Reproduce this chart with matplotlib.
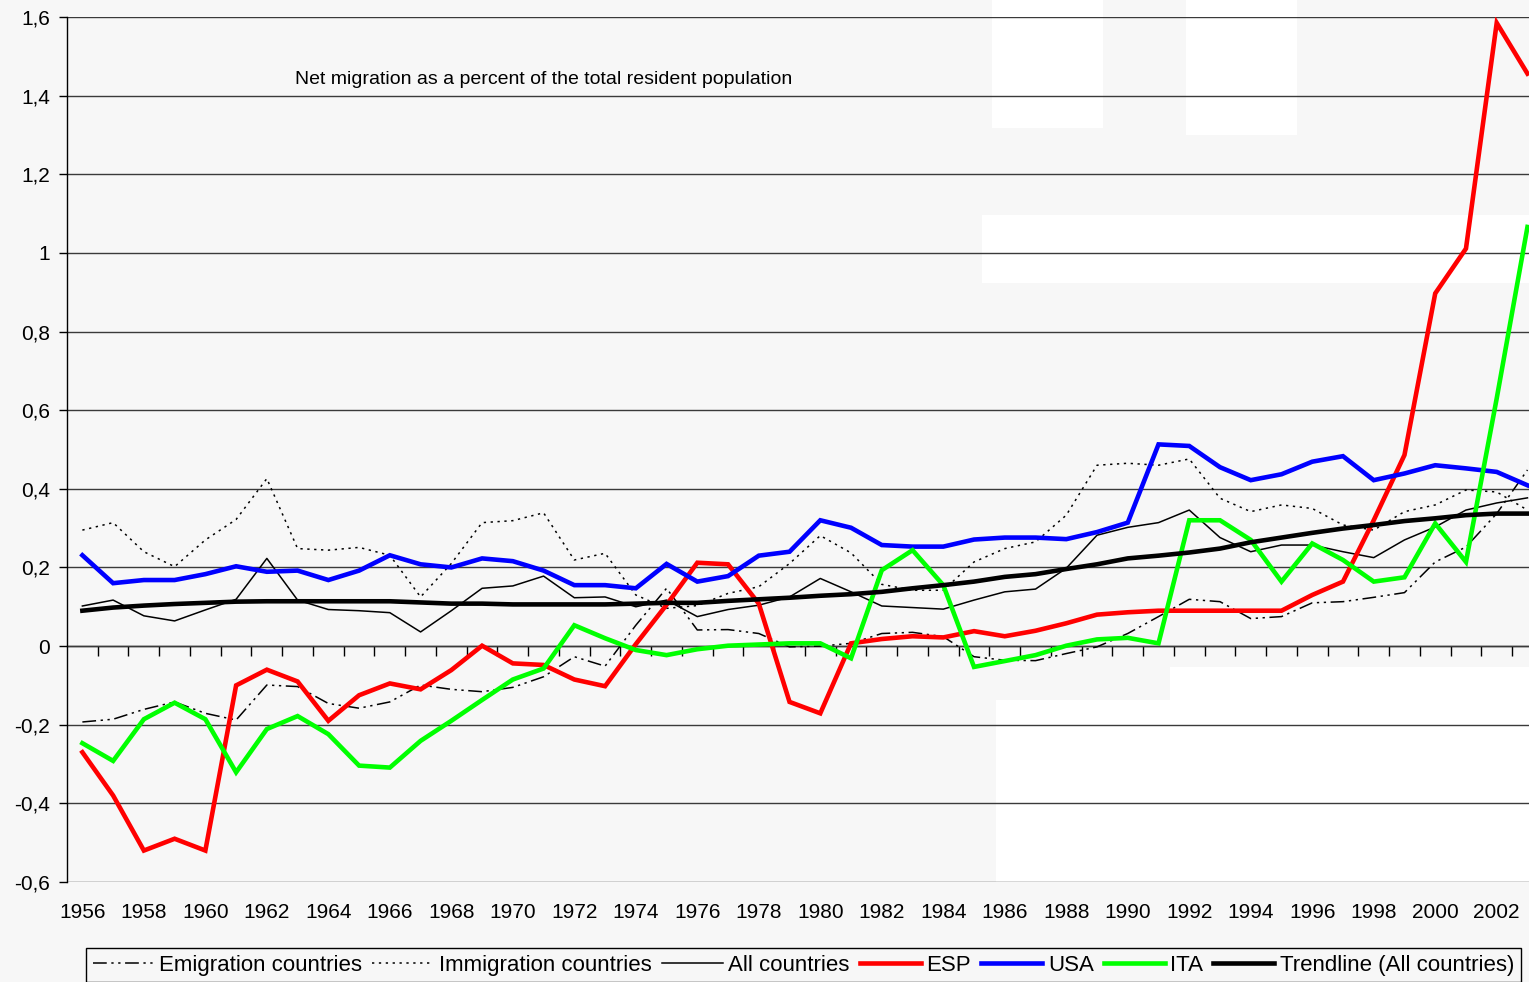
import matplotlib
matplotlib.use("Agg")
import matplotlib.pyplot as plt
from matplotlib.ticker import FuncFormatter, MultipleLocator, NullFormatter
from matplotlib.patches import Rectangle

years = list(range(1956, 2004))

emigration = [-0.193, -0.186, -0.161, -0.142, -0.171, -0.188, -0.099, -0.103, -0.146, -0.158, -0.142, -0.099,
              -0.110, -0.116, -0.105, -0.078, -0.027, -0.051, 0.053, 0.147, 0.041, 0.042, 0.032, -0.002,
              0.000, 0.007, 0.032, 0.035, 0.024, -0.027, -0.036, -0.037, -0.019, -0.002, 0.032, 0.075,
              0.119, 0.113, 0.070, 0.075, 0.110, 0.113, 0.124, 0.136, 0.214, 0.252, 0.337, 0.448]
immigration = [0.295, 0.314, 0.240, 0.202, 0.270, 0.322, 0.426, 0.248, 0.244, 0.251, 0.231, 0.125,
               0.210, 0.314, 0.319, 0.339, 0.219, 0.236, 0.130, 0.096, 0.103, 0.134, 0.151, 0.210,
               0.281, 0.237, 0.157, 0.142, 0.142, 0.214, 0.248, 0.265, 0.333, 0.460, 0.465, 0.460,
               0.476, 0.376, 0.342, 0.359, 0.350, 0.308, 0.295, 0.342, 0.359, 0.397, 0.392, 0.346]
all_countries = [0.102, 0.117, 0.077, 0.064, 0.092, 0.119, 0.223, 0.117, 0.093, 0.090, 0.085, 0.036,
                 0.090, 0.147, 0.153, 0.178, 0.123, 0.125, 0.100, 0.117, 0.075, 0.093, 0.104, 0.125,
                 0.172, 0.138, 0.102, 0.098, 0.094, 0.117, 0.138, 0.145, 0.198, 0.282, 0.302, 0.314,
                 0.346, 0.276, 0.240, 0.257, 0.257, 0.240, 0.225, 0.270, 0.303, 0.346, 0.364, 0.377]
esp = [-0.270, -0.380, -0.520, -0.490, -0.520, -0.100, -0.060, -0.090, -0.190, -0.125,
       -0.095, -0.110, -0.061, 0.001, -0.044, -0.048, -0.085, -0.102, 0.005, 0.105,
       0.212, 0.208, 0.108, -0.142, -0.171, 0.007, 0.018, 0.025, 0.022, 0.038,
       0.025, 0.039, 0.058, 0.080, 0.086, 0.090, 0.090, 0.090, 0.090, 0.090,
       0.130, 0.164, 0.320, 0.486, 0.897, 1.011, 1.585, 1.456]
usa = [0.231, 0.160, 0.168, 0.168, 0.183, 0.203, 0.189, 0.192, 0.168, 0.192,
       0.231, 0.208, 0.200, 0.223, 0.216, 0.192, 0.155, 0.155, 0.147, 0.209,
       0.164, 0.178, 0.230, 0.240, 0.320, 0.301, 0.257, 0.253, 0.253, 0.271,
       0.276, 0.276, 0.272, 0.290, 0.314, 0.513, 0.509, 0.455, 0.422, 0.437,
       0.469, 0.483, 0.422, 0.439, 0.460, 0.452, 0.443, 0.409]
ita = [-0.247, -0.292, -0.186, -0.144, -0.186, -0.321, -0.211, -0.178, -0.224, -0.304,
       -0.309, -0.241, -0.190, -0.137, -0.085, -0.057, 0.053, 0.020, -0.010, -0.023,
       -0.008, 0.001, 0.004, 0.007, 0.007, -0.031, 0.193, 0.244, 0.155, -0.053,
       -0.038, -0.023, 0.001, 0.017, 0.021, 0.007, 0.320, 0.320, 0.270, 0.164,
       0.261, 0.219, 0.164, 0.175, 0.312, 0.214, 0.630, 1.066]
trendline = [0.090, 0.098, 0.103, 0.107, 0.110, 0.113, 0.114, 0.114, 0.114, 0.114, 0.114, 0.111,
             0.108, 0.108, 0.106, 0.106, 0.106, 0.106, 0.108, 0.110, 0.110, 0.115, 0.119, 0.123,
             0.128, 0.132, 0.138, 0.147, 0.155, 0.164, 0.176, 0.183, 0.196, 0.208, 0.223, 0.230,
             0.238, 0.248, 0.264, 0.276, 0.288, 0.299, 0.308, 0.318, 0.325, 0.333, 0.337, 0.337]

labels = ["Emigration countries", "Immigration countries", "All countries",
          "ESP", "USA", "ITA", "Trendline (All countries)"]
title_text = "Net migration as a percent of the total resident population"

plt.rcParams['font.family'] = ['Liberation Sans', 'DejaVu Sans']
bg = "#f7f7f7"

W, H = 1529, 982
fig = plt.figure(figsize=(W / 100, H / 100), dpi=100, facecolor=bg)

# faint white background watermark blocks (figure pixel boxes: x0, y0_top, x1, y1_bottom)
watermark = [(992, 0, 1103, 128), (1186, 0, 1297, 135), (982, 215, 1529, 283),
             (1170, 667, 1529, 882), (996, 700, 1170, 882)]
for x0, y0, x1, y1 in watermark:
    fig.patches.append(Rectangle((x0 / W, 1 - y1 / H), (x1 - x0) / W, (y1 - y0) / H,
                                 transform=fig.transFigure, facecolor='white',
                                 edgecolor='none', zorder=-10))

ax = fig.add_axes([67 / W, 1 - 882 / H, (W - 67) / W, (882 - 17) / H])
ax.set_facecolor('none')
ax.set_zorder(5)

ymin, ymax = -0.6, 1.6
ax.set_ylim(ymin, ymax)
ax.set_xlim(1955.5, 2003.05)

ax.yaxis.set_major_locator(MultipleLocator(0.2))
ax.yaxis.set_major_formatter(FuncFormatter(lambda v, p: f"{round(v, 1):g}".replace('.', ',')))
ax.grid(axis='y', color='#3a3a3a', linewidth=1.0)
ax.set_axisbelow(True)

for s in ['top', 'right', 'bottom']:
    ax.spines[s].set_visible(False)
ax.spines['left'].set_color('black')
ax.spines['left'].set_linewidth(1.0)
ax.tick_params(axis='y', direction='out', length=6, width=1, labelsize=15, pad=6, colors='black')

ax.set_xticks(list(range(1956, 2003, 2)))
ax.tick_params(axis='x', length=0, labelsize=15, pad=15)

# category axis crossing at zero with tick marks between categories
zero_frac = (0 - ymin) / (ymax - ymin)
sec = ax.secondary_xaxis(zero_frac)
sec.set_xticks([y + 0.5 for y in years[:-1]])
sec.xaxis.set_major_formatter(NullFormatter())
sec.xaxis.set_ticks_position('bottom')
sec.tick_params(axis='x', direction='out', length=7, width=1)
for s in sec.spines.values():
    s.set_color('black')
    s.set_linewidth(1.0)

lw_thin = 1.1
h1, = ax.plot(years, emigration, color='black', lw=lw_thin, dashes=(9, 3, 1.5, 3, 1.5, 3), label=labels[0])
h2, = ax.plot(years, immigration, color='black', lw=lw_thin, dashes=(1.5, 3), label=labels[1])
h3, = ax.plot(years, all_countries, color='black', lw=lw_thin, label=labels[2])
h4, = ax.plot(years, esp, color='#ff0000', lw=3.3, label=labels[3], solid_joinstyle='miter')
h5, = ax.plot(years, usa, color='#0000ff', lw=3.3, label=labels[4], solid_joinstyle='miter')
h6, = ax.plot(years, ita, color='#00ff00', lw=3.3, label=labels[5], solid_joinstyle='miter')
h7, = ax.plot(years, trendline, color='black', lw=3.3, label=labels[6])

fig.text(295 / W, 1 - 80 / H, title_text, fontsize=14, ha='left', va='center')

leg = fig.legend(handles=[h1, h2, h3, h4, h5, h6, h7], loc='upper left',
                 bbox_to_anchor=(86 / W, 1 - 948 / H), ncol=7, fontsize=16,
                 frameon=True, fancybox=False, edgecolor='black', facecolor=bg,
                 handlelength=2.75, handletextpad=0.25, columnspacing=0.45,
                 borderpad=0.3, borderaxespad=0)
leg.get_frame().set_linewidth(1.0)
leg.get_frame().set_alpha(1)

fig.savefig("out.png", dpi=100, facecolor=bg)
